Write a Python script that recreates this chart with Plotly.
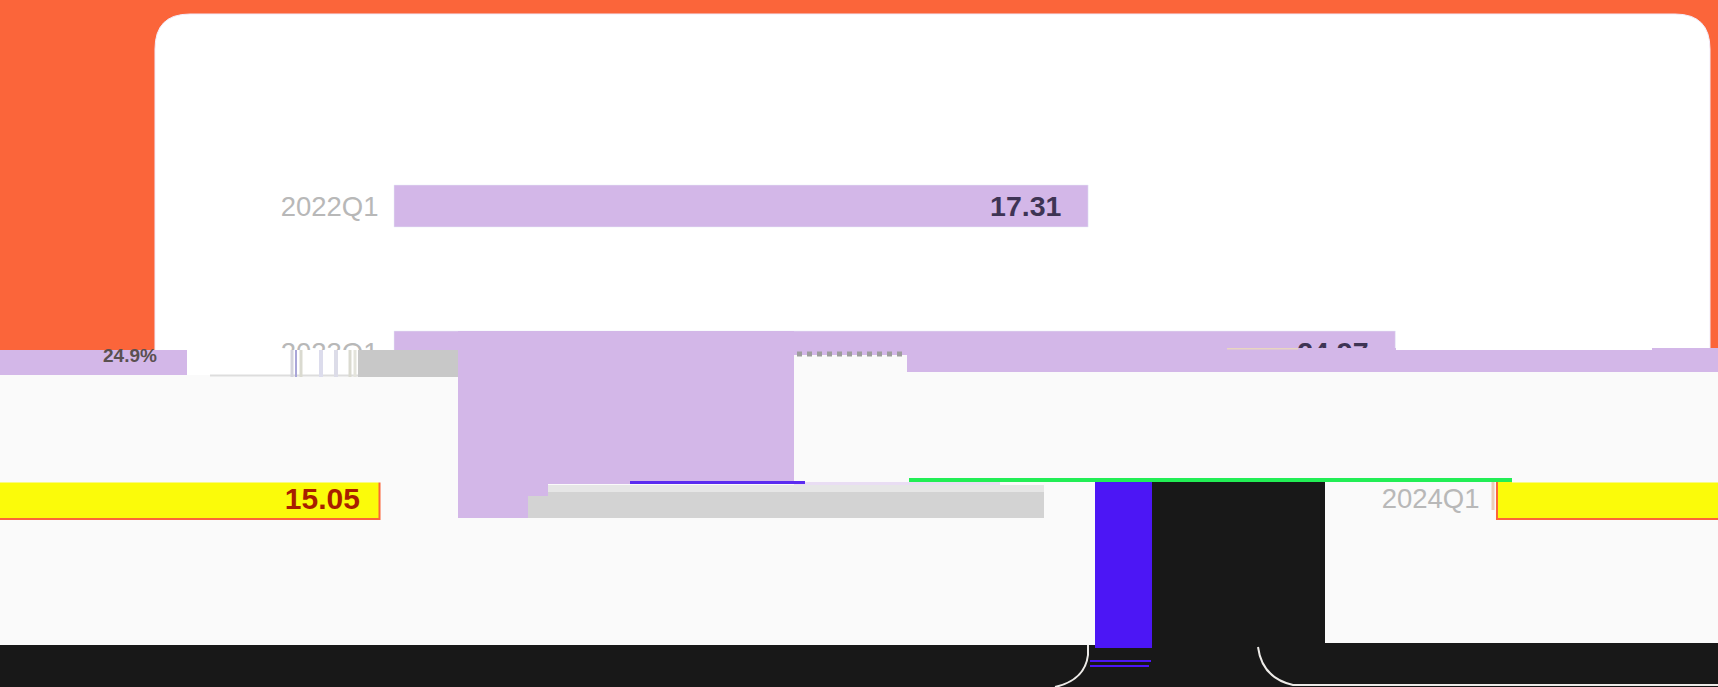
import plotly.graph_objects as go

categories = ["2022Q1", "2023Q1", "2024Q1"]
values_2022 = [17.31]
values_2023 = [24.97]
values_2024 = [15.05]

W, H = 1718, 687
PX = 40.1          # pixels per unit on the value axis
PAD = "\u00a0" * 3
PAD_Y = "\u00a0" * 2

ORANGE, LIGHT, PURPLE = "#FB653A", "#FAFAFA", "#D3B7E8"
BLUE, BLACK, YELLOW = "#4C16F5", "#181818", "#FBFB0A"
DARK_TXT, TICK_TXT = "#3E3454", "#B8B8B8"


def fx(x):
    return x / W


def fy(y):
    return 1 - y / H


def rect(x0, y0, x1, y1, color, layer="above"):
    return dict(type="rect", xref="paper", yref="paper", x0=fx(x0), x1=fx(x1),
                y0=fy(y0), y1=fy(y1), fillcolor=color, line_width=0, layer=layer)


def path(points, color, width=2, fill=None, layer="above"):
    d = ""
    for cmd, *xy in points:
        d += cmd + " ".join(f"{(fx(v) if i % 2 == 0 else fy(v)):.5f}" for i, v in enumerate(xy)) + " "
    return dict(type="path", xref="paper", yref="paper", path=d,
                line=dict(color=color, width=width), fillcolor=fill or "rgba(0,0,0,0)", layer=layer)


def line(x0, y0, x1, y1, color, width=1, dash="solid"):
    return dict(type="line", xref="paper", yref="paper", x0=fx(x0), x1=fx(x1), y0=fy(y0), y1=fy(y1),
                line=dict(color=color, width=width, dash=dash), layer="above")


fig = go.Figure()
fig.add_bar(y=categories[:1], x=values_2022, orientation="h", width=0.2877, marker_color=PURPLE,
            text=[f"<b>{v:.2f}</b>{PAD}" for v in values_2022], textposition="inside", insidetextanchor="end",
            textangle=0, constraintext="none", textfont=dict(family="Liberation Sans", size=28.5, color=DARK_TXT))
fig.add_bar(y=categories[1:2], x=values_2023, orientation="h", width=0.2877, marker_color=PURPLE,
            text=[f"<b>{v:.2f}</b>{PAD}" for v in values_2023], textposition="inside", insidetextanchor="end",
            textangle=0, constraintext="none", textfont=dict(family="Liberation Sans", size=28.5, color=DARK_TXT))
# the last bar is broken in two in the picture: it leaves the right edge and comes back on the left
fig.add_bar(y=categories[2:], x=values_2024, orientation="h", width=0.2877, xaxis="x2", yaxis="y2",
            marker=dict(color=YELLOW, line=dict(color=ORANGE, width=2)))
fig.add_bar(y=categories[2:], x=values_2024, orientation="h", width=0.2877, xaxis="x3",
            marker=dict(color=YELLOW, line=dict(color=ORANGE, width=2)),
            text=[f"<b>{v:.2f}</b>{PAD_Y}" for v in values_2024], textposition="inside", insidetextanchor="end",
            textangle=0, constraintext="none", textfont=dict(family="Liberation Sans", size=30, color="#A81E00"))

below = [
    rect(0, 0, W, H, ORANGE, "below"),
    path([("M", 155, 400), ("L", 155, 49), ("Q", 155, 14, 190, 14), ("L", 1675, 14),
          ("Q", 1710, 14, 1710, 49), ("L", 1710, 400), ("Z",)], "#F1ECFB", 1, "white", "below"),
    rect(0, 375, W, 645, LIGHT, "below"),
]
above = [
    # purple band left and right
    rect(0, 350, 187, 375, PURPLE),
    rect(907, 348, W, 372, PURPLE),
    rect(1396, 348, 1652, 350, "#FFFFFF"),
    rect(1227, 348, 1298, 349.5, "#E8D5C0"),
    # white cover over the lower half of the 2023Q1 bar
    rect(394, 350, 458, 377, "#C8C8C8"),
    rect(358, 350, 394, 377, "#C8C8C8"),
    rect(187, 350, 358, 375, "#FFFFFF"),
    line(210, 375.5, 358, 375.5, "#DDDDDD", 2),
    rect(458, 331, 794, 484, PURPLE),
    rect(458, 484, 528, 518, PURPLE),
    rect(528, 484, 548, 496, PURPLE),
    rect(794, 355, 907, 482, LIGHT),
    rect(794, 482, 1000, 485, "#E9DDF3"),
    rect(548, 485, 1044, 492, "#E6E6E6"),
    rect(528, 496, 1044, 518, "#D3D3D3"),
    rect(548, 492, 1044, 496, "#D3D3D3"),
    rect(907, 372, 1718, 482, LIGHT),
    # streaked remains of the tick label
    line(292, 350, 292, 377, "#D4D4DC", 3),
    line(296, 350, 296, 377, "#A9A6D8", 2),
    line(301, 350, 301, 377, "#DADAD0", 3),
    line(321, 350, 321, 377, "#DCDCEC", 4),
    line(336, 350, 336, 377, "#DCDCE8", 4),
    line(350, 350, 350, 377, "#DADAD0", 3),
    line(355, 350, 355, 377, "#E4E4DC", 3),
    # dotted remains of a label
    line(797, 354, 905, 354, "#9E9E9E", 5, "dot"),
    # dark block and footer
    rect(1095, 482, 1152, 648, BLUE),
    rect(1152, 482, 1325, H, BLACK),
    rect(1095, 648, 1152, H, BLACK),
    rect(0, 645, 1095, H, BLACK),
    rect(1325, 643, W, H, BLACK),
    rect(1090, 660, 1151, 662, BLUE),
    rect(1090, 665, 1149, 667, BLUE),
    # coloured hairlines
    rect(630, 481, 805, 484, "#5B2BF0"),
    rect(909, 478, 1512, 482, "#22EE55"),
    line(1493, 482, 1493, 510, "#EBCDB8", 3),
    # hide the top of the yellow bar pieces
    rect(0, 470, 400, 482.5, LIGHT),
    rect(1512, 478, W, 482.5, LIGHT),
    # corner arcs
    path([("M", 1088, 645), ("L", 1088, 655), ("Q", 1085, 680, 1055, 687)], "#EDEBE8", 2),
    path([("M", 1258, 647), ("Q", 1262, 678, 1293, 685), ("L", W, 685)], "#EDEBE8", 2),
]

fig.update_layout(
    width=W, height=H, margin=dict(l=0, r=0, t=0, b=0, pad=0), showlegend=False,
    paper_bgcolor=ORANGE, plot_bgcolor="rgba(0,0,0,0)", barmode="overlay",
    shapes=below + above,
    annotations=[dict(xref="paper", yref="paper", x=fx(130), y=fy(355), xanchor="center", text="<b>24.9%</b>",
                      showarrow=False, font=dict(family="Liberation Sans", size=19, color="#5A5050"))],
    xaxis=dict(domain=[0, 1], range=[-394 / PX, (W - 394) / PX], visible=False),
    xaxis2=dict(domain=[0, 1], range=[-1497 / PX, (W - 1497) / PX], visible=False, overlaying="x"),
    xaxis3=dict(domain=[0, 1], range=[224 / PX, (W + 224) / PX], visible=False, overlaying="x"),
    yaxis=dict(type="category", categoryorder="array", categoryarray=categories,
               range=[(H - 206) / 146, -206 / 146], anchor="free", position=394 / W,
               tickvals=categories[:2], ticks="outside", ticklen=10, tickcolor="rgba(0,0,0,0)",
               showline=False, showgrid=False, zeroline=False,
               tickfont=dict(family="Liberation Sans", size=27.5, color=TICK_TXT)),
    yaxis2=dict(type="category", categoryorder="array", categoryarray=categories,
                range=[(H - 206) / 146, -206 / 146], anchor="free", position=1497 / W, overlaying="y",
                tickvals=categories[2:], ticks="outside", ticklen=12, tickcolor="rgba(0,0,0,0)",
                showline=False, showgrid=False, zeroline=False,
                tickfont=dict(family="Liberation Sans", size=27.5, color=TICK_TXT)),
)

fig.write_html("out.html", post_script="document.body.style.margin='0';", config=dict(displayModeBar=False))
